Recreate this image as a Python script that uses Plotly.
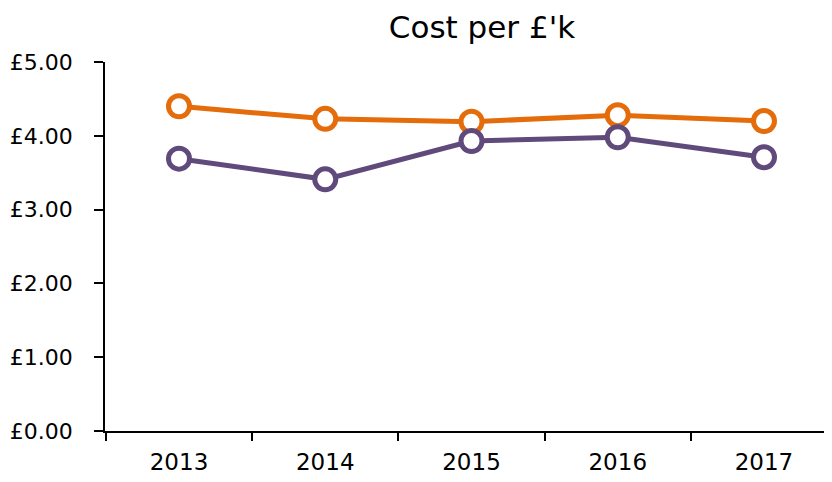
import plotly.graph_objects as go

years = ["2013", "2014", "2015", "2016", "2017"]
series_orange = [4.40, 4.23, 4.19, 4.28, 4.20]
series_purple = [3.69, 3.41, 3.93, 3.98, 3.71]
y_ticks = [0, 1, 2, 3, 4, 5]
y_tick_labels = ["£0.00", "£1.00", "£2.00", "£3.00", "£4.00", "£5.00"]

OFF = 8  # page body margin
W, H = 832 - OFF, 482 - OFF

fig = go.Figure()
for vals, col in [(series_orange, "#E46C0A"), (series_purple, "#5F4A7B")]:
    fig.add_trace(go.Scatter(
        x=years, y=vals, mode="lines+markers",
        line=dict(color=col, width=5),
        marker=dict(symbol="circle", size=21, color="white",
                    line=dict(color=col, width=5)),
        showlegend=False,
    ))

fig.update_layout(
    width=W, height=H,
    margin=dict(l=105 - OFF, r=0, t=62 - OFF, b=51),
    paper_bgcolor="white", plot_bgcolor="white",
    font=dict(family="DejaVu Sans", color="black"),
    title=dict(text="Cost per £'k", x=(482 - OFF) / W, xanchor="center",
               y=1 - (27 - OFF) / H, yanchor="middle",
               font=dict(size=31, color="black")),
    xaxis=dict(
        type="category", range=[-0.506, 4.465], automargin=False,
        showline=True, linecolor="black", linewidth=1.5,
        ticks="outside", tickson="boundaries", ticklen=8, tickwidth=2,
        tickcolor="black", showgrid=False, zeroline=False,
        tickfont=dict(size=23), ticklabelstandoff=10,
    ),
    yaxis=dict(
        range=[0, 5], tickvals=y_ticks, ticktext=y_tick_labels, automargin=False,
        showline=True, linecolor="black", linewidth=1.5,
        ticks="outside", ticklen=9, tickwidth=1.5, tickcolor="black",
        showgrid=False, zeroline=False,
        tickfont=dict(size=22), ticklabelstandoff=17,
    ),
)

fig.write_html("out.html")
